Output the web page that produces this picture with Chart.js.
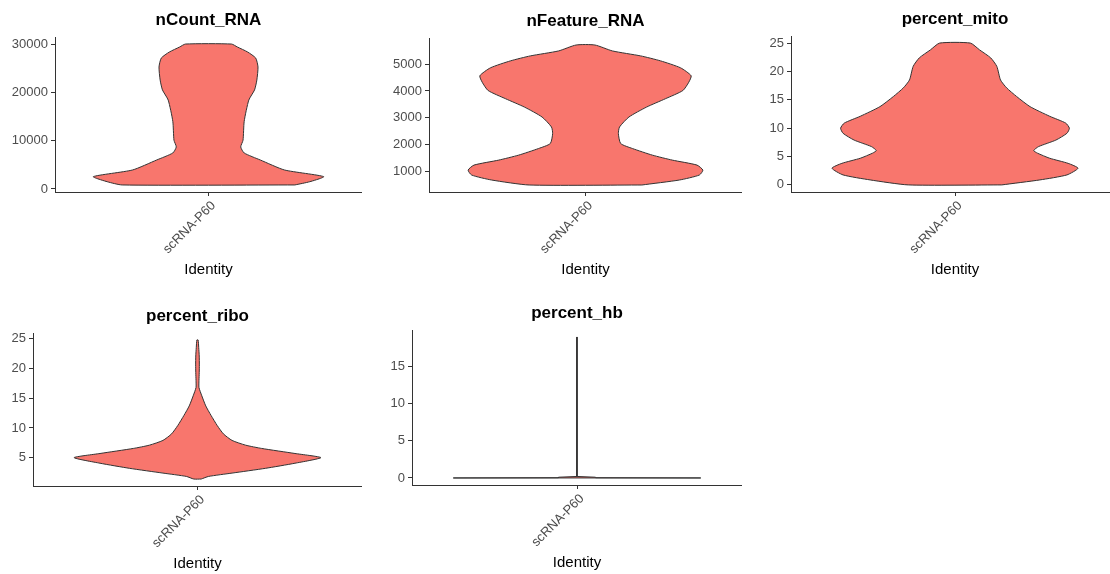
<!DOCTYPE html>
<html>
<head>
<meta charset="utf-8">
<title>QC violins</title>
<script src="https://cdn.jsdelivr.net/npm/chart.js@4.4.1/dist/chart.umd.min.js"></script>
<style>
  html, body { margin: 0; padding: 0; background: #fff; }
  body { width: 1110px; height: 574px; position: relative; overflow: hidden; }
  .panel { position: absolute; }
</style>
</head>
<body>
<script>
const sampleName = 'scRNA-P60';

// nCount_RNA: value levels and relative half-width of the violin at each level
const countLevels = [830, 1500, 2550, 3930, 6000, 7450, 8700, 10100, 14000, 18400, 20500, 22550, 25240, 27100, 28350, 29400, 30000];
const countWidths = [0.75, 0.88, 1.0, 0.66, 0.45, 0.31, 0.28, 0.30, 0.31, 0.35, 0.40, 0.42, 0.43, 0.41, 0.34, 0.25, 0.20];
const countTicks = [0, 10000, 20000, 30000];

// nFeature_RNA
const featureLevels = [507, 692, 877, 1060, 1246, 1431, 1616, 1862, 2047, 2416, 2662, 3032, 3401, 3709, 4017, 4325, 4564, 4859, 5117, 5302, 5486, 5707];
const featureWidths = [0.48, 0.80, 0.97, 1.0, 0.95, 0.74, 0.57, 0.40, 0.30, 0.28, 0.29, 0.37, 0.52, 0.68, 0.83, 0.88, 0.90, 0.81, 0.64, 0.47, 0.23, 0.08];
const featureTicks = [1000, 2000, 3000, 4000, 5000];

// percent_mito
const mitoLevels = [0, 0.88, 1.76, 2.94, 3.8, 4.7, 5.6, 6.06, 6.76, 7.9, 9.1, 10.0, 10.9, 12.1, 13.8, 15.6, 17.1, 18.5, 20.9, 22.4, 23.8, 25];
const mitoWidths = [0.38, 0.69, 0.91, 1.0, 0.92, 0.77, 0.67, 0.64, 0.68, 0.82, 0.91, 0.93, 0.90, 0.77, 0.61, 0.50, 0.42, 0.37, 0.34, 0.29, 0.20, 0.125];
const mitoTicks = [0, 5, 10, 15, 20, 25];

// percent_ribo
const riboLevels = [1.4, 1.84, 2.4, 3.2, 4.06, 5.0, 5.7, 6.55, 7.1, 7.9, 9.0, 10.4, 12.1, 13.7, 15.4, 16.8, 18.0, 19.3, 20.6, 22.1, 23.5, 24.8];
const riboWidths = [0.03, 0.09, 0.28, 0.55, 0.79, 1.0, 0.79, 0.52, 0.39, 0.28, 0.21, 0.16, 0.11, 0.067, 0.035, 0.012, 0.012, 0.014, 0.015, 0.014, 0.010, 0.005];
const riboTicks = [5, 10, 15, 20, 25];

// percent_hb (almost everything sits at 0)
const hbLevels = [0, 0.03, 0.1, 0.2, 19];
const hbWidths = [1, 0.15, 0.15, 0.001, 0.001];
const hbTicks = [0, 5, 10, 15];

// plot area of every panel on the page
const panels = [
  { title: 'nCount_RNA',   levels: countLevels,   widths: countWidths,   ticks: countTicks,   tension: 0.2, box: { left: 55,  top: 37,  right: 362,  bottom: 192 } },
  { title: 'nFeature_RNA', levels: featureLevels, widths: featureWidths, ticks: featureTicks, tension: 0.2, box: { left: 429, top: 38,  right: 742,  bottom: 192 } },
  { title: 'percent_mito', levels: mitoLevels,    widths: mitoWidths,    ticks: mitoTicks,    tension: 0.2, box: { left: 791, top: 36,  right: 1119, bottom: 192 } },
  { title: 'percent_ribo', levels: riboLevels,    widths: riboWidths,    ticks: riboTicks,    tension: 0.2, box: { left: 33,  top: 333, right: 362,  bottom: 486 } },
  { title: 'percent_hb',   levels: hbLevels,      widths: hbWidths,      ticks: hbTicks,      tension: 0,   box: { left: 412, top: 330, right: 742,  bottom: 485 } }
];

const FILL = '#F8766D';
const INK = '#333333';
const FONT = 'Liberation Sans, Arial, sans-serif';
const AXIS_W = 55;     // space left of the plot for y labels
const TITLE_H = 37;    // space above the plot for the panel title
const XAXIS_H = 93;    // space below the plot for the rotated label + "Identity"
const HALF = 0.45;     // widest half-width of a violin on the -0.6..0.6 x range

// closed outline: up the right side, down the left side, back to start
function violinPoints(levels, widths) {
  const right = levels.map((v, i) => ({ x: widths[i] * HALF, y: v }));
  const left = levels.map((v, i) => ({ x: -widths[i] * HALF, y: v })).reverse();
  return right.concat(left, [right[0]]);
}

panels.forEach(p => {
  const b = p.box;
  const div = document.createElement('div');
  div.className = 'panel';
  const left = b.left - AXIS_W;
  const top = b.top - TITLE_H;
  div.style.left = left + 'px';
  div.style.top = top + 'px';
  div.style.width = (b.right - left) + 'px';
  div.style.height = ((b.bottom - b.top) + TITLE_H + XAXIS_H) + 'px';
  const canvas = document.createElement('canvas');
  div.appendChild(canvas);
  document.body.appendChild(div);

  // ggplot-style 5% padding around the data range
  const lo = Math.min(...p.levels);
  const hi = Math.max(...p.levels);
  const pad = (hi - lo) * 0.05;

  new Chart(canvas.getContext('2d'), {
    type: 'line',
    data: {
      datasets: [{
        data: violinPoints(p.levels, p.widths),
        borderColor: INK,
        borderWidth: 1,
        backgroundColor: FILL,
        fill: 'shape',
        pointRadius: 0,
        tension: p.tension
      }]
    },
    options: {
      responsive: true,
      maintainAspectRatio: false,
      animation: false,
      layout: { padding: 0 },
      plugins: {
        legend: { display: false },
        tooltip: { enabled: false },
        title: {
          display: true,
          text: p.title,
          fullSize: false,
          color: '#000',
          font: { family: FONT, size: 17, weight: 'bold', lineHeight: 1.2 },
          padding: { top: 10, bottom: TITLE_H - 10 - 17 * 1.2 }
        }
      },
      scales: {
        x: {
          type: 'linear',
          min: -0.6,
          max: 0.6,
          afterBuildTicks: scale => { scale.ticks = [{ value: 0 }]; },
          afterFit: scale => { scale.height = XAXIS_H; },
          ticks: {
            autoSkip: false,
            minRotation: 45,
            maxRotation: 45,
            padding: 2,
            labelOffset: 5,
            color: '#4D4D4D',
            font: { family: FONT, size: 13 },
            callback: () => sampleName
          },
          grid: { drawOnChartArea: false, drawTicks: true, tickLength: 4, color: INK },
          border: { display: true, color: INK, width: 1 },
          title: {
            display: true,
            text: 'Identity',
            color: '#000',
            font: { family: FONT, size: 15 },
            padding: { top: 0, bottom: 6 }
          }
        },
        y: {
          type: 'linear',
          min: lo - pad,
          max: hi + pad,
          afterBuildTicks: scale => { scale.ticks = p.ticks.map(v => ({ value: v })); },
          afterFit: scale => { scale.width = AXIS_W; },
          ticks: {
            padding: 3,
            color: '#4D4D4D',
            font: { family: FONT, size: 13 },
            callback: v => String(v)
          },
          grid: { drawOnChartArea: false, drawTicks: true, tickLength: 4, color: INK },
          border: { display: true, color: INK, width: 1 }
        }
      }
    }
  });
});
</script>
</body>
</html>
